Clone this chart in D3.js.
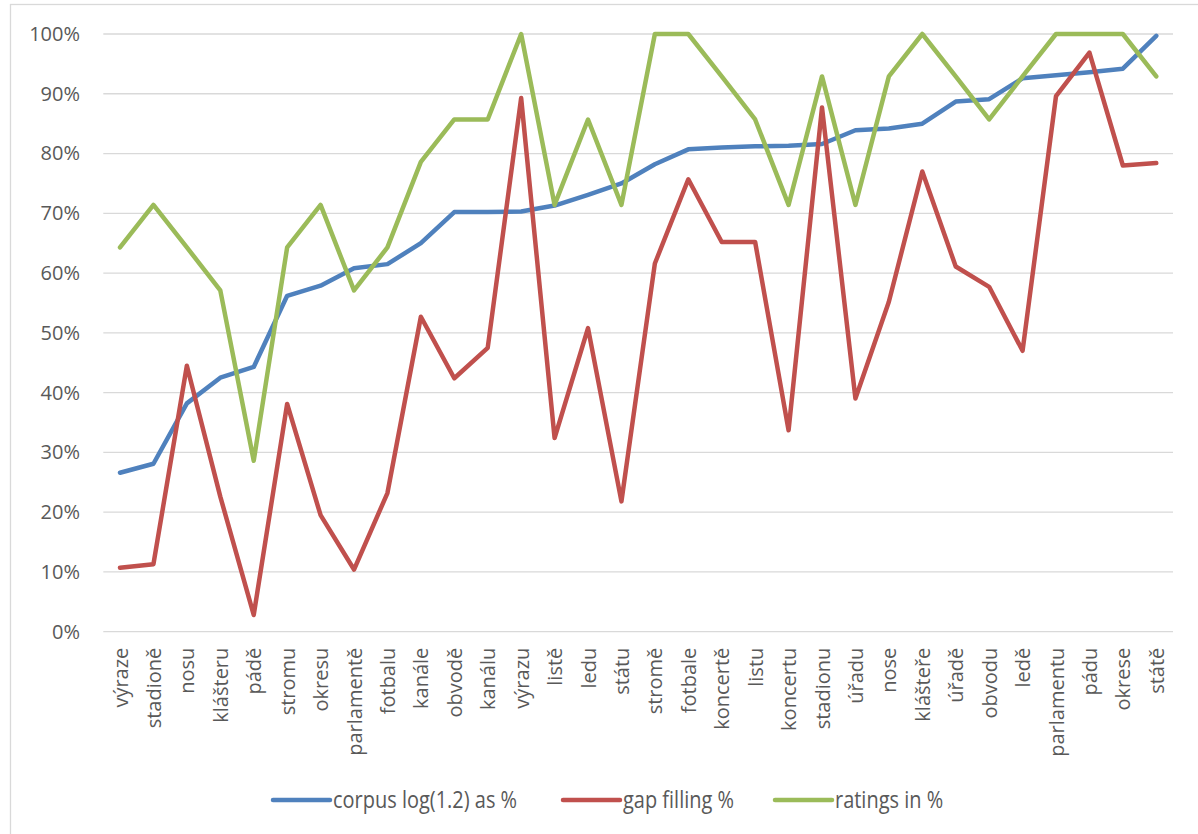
<!DOCTYPE html>
<html>
<head>
<meta charset="utf-8">
<script src="https://cdn.jsdelivr.net/npm/d3@7"></script>
<style>
  body { margin: 0; background: #fff; }
  svg { display: block; }
</style>
</head>
<body>
<div id="chart"></div>
<script>
var width = 1198,
  height = 834;

// word forms along the x axis
var words = ["výraze", "stadioně", "nosu", "klášteru", "pádě", "stromu", "okresu", "parlamentě",
  "fotbalu", "kanále", "obvodě", "kanálu", "výrazu", "listě", "ledu", "státu", "stromě", "fotbale",
  "koncertě", "listu", "koncertu", "stadionu", "úřadu", "nose", "klášteře", "úřadě", "obvodu",
  "ledě", "parlamentu", "pádu", "okrese", "státě"];

// series values in %
var corpus = [26.6, 28.1, 38.2, 42.5, 44.3, 56.2, 57.9, 60.8, 61.5, 65.0, 70.2, 70.2, 70.3, 71.3,
  73.1, 75.0, 78.2, 80.7, 81.0, 81.2, 81.3, 81.6, 83.9, 84.2, 85.0, 88.7, 89.1, 92.6, 93.1, 93.6,
  94.2, 99.7];
var gapFilling = [10.7, 11.3, 44.5, 22.6, 2.8, 38.1, 19.5, 10.4, 23.2, 52.7, 42.4, 47.5, 89.3, 32.4,
  50.8, 21.8, 61.6, 75.7, 65.2, 65.2, 33.7, 87.7, 39.0, 55.2, 77.0, 61.1, 57.7, 47.0, 89.6, 96.9,
  78.0, 78.4];
var ratings = [64.3, 71.4, 64.3, 57.1, 28.6, 64.3, 71.4, 57.1, 64.3, 78.6, 85.7, 85.7, 100, 71.4,
  85.7, 71.4, 100, 100, 92.9, 85.7, 71.4, 92.9, 71.4, 92.9, 100, 92.9, 85.7, 92.9, 100, 100,
  100, 92.9];

var seriesNames = ["corpus log(1.2) as %", "gap filling %", "ratings in %"];
var seriesColors = ["#4f81bd", "#c0504d", "#9bbb59"];
var yTicks = [0, 10, 20, 30, 40, 50, 60, 70, 80, 90, 100];

var series = [corpus, gapFilling, ratings].map(function(vals, i) {
  return { name: seriesNames[i], color: seriesColors[i], values: vals };
});

var svg = d3.select("#chart").append("svg")
  .attr("width", width)
  .attr("height", height);

// chart frame
svg.append("rect")
  .attr("x", 10.5)
  .attr("y", 4.5)
  .attr("width", 1200)
  .attr("height", 840)
  .attr("fill", "#fff")
  .attr("stroke", "#d9d9d9")
  .attr("stroke-width", 1.3);

var plotLeft = 103.3, plotRight = 1173, plotTop = 34, plotBottom = 631.7;

var x = d3.scalePoint()
  .domain(words)
  .range([plotLeft, plotRight])
  .padding(0.5);

var y = d3.scaleLinear()
  .domain([0, 100])
  .range([plotBottom, plotTop]);

// gridlines
svg.append("g")
  .selectAll("line")
  .data(yTicks)
  .enter().append("line")
    .attr("x1", plotLeft)
    .attr("x2", plotRight)
    .attr("y1", function(d) { return y(d); })
    .attr("y2", function(d) { return y(d); })
    .attr("stroke", "#d9d9d9")
    .attr("stroke-width", 1.3);

// y axis labels
var yAxis = d3.axisLeft(y)
  .tickValues(yTicks)
  .tickSize(0)
  .tickPadding(0)
  .tickFormat(function(d) { return d + "%"; });

svg.append("g")
  .attr("transform", "translate(80,0)")
  .call(yAxis)
  .call(function(g) { g.select(".domain").remove(); })
  .selectAll("text")
    .attr("font-family", "'Open Sans', sans-serif")
    .attr("font-size", 20)
    .attr("fill", "#595959");

// x axis labels, rotated
var xAxis = d3.axisBottom(x).tickSize(0).tickPadding(0);

var gx = svg.append("g")
  .attr("transform", "translate(0," + plotBottom + ")")
  .call(xAxis);
gx.select(".domain").remove();
gx.selectAll("text")
  .attr("font-family", "'Open Sans', sans-serif")
  .attr("font-size", 20)
  .attr("fill", "#595959")
  .attr("text-anchor", "end")
  .attr("dy", "0.35em")
  .attr("transform", "translate(0,16) rotate(-90)");

// series lines
var line = d3.line()
  .x(function(d, i) { return x(words[i]); })
  .y(function(d) { return y(d); });

svg.append("g")
  .selectAll("path")
  .data(series)
  .enter().append("path")
    .attr("d", function(d) { return line(d.values); })
    .attr("fill", "none")
    .attr("stroke", function(d) { return d.color; })
    .attr("stroke-width", 4.5)
    .attr("stroke-linejoin", "round")
    .attr("stroke-linecap", "round");

// legend
var legendX = [273, 563, 775];
var legend = svg.append("g")
  .selectAll("g")
  .data(series)
  .enter().append("g")
    .attr("transform", function(d, i) { return "translate(" + legendX[i] + ",800)"; });

legend.append("line")
  .attr("x1", 0)
  .attr("x2", 57)
  .attr("stroke", function(d) { return d.color; })
  .attr("stroke-width", 4.5)
  .attr("stroke-linecap", "round");

// narrow, tall-ish legend text (Calibri look)
legend.append("text")
  .attr("transform", "translate(60,0) scale(0.85,1)")
  .attr("dy", "0.35em")
  .attr("font-family", "'Open Sans', sans-serif")
  .attr("font-size", 23.5)
  .attr("fill", "#595959")
  .text(function(d) { return d.name; });
</script>
</body>
</html>
